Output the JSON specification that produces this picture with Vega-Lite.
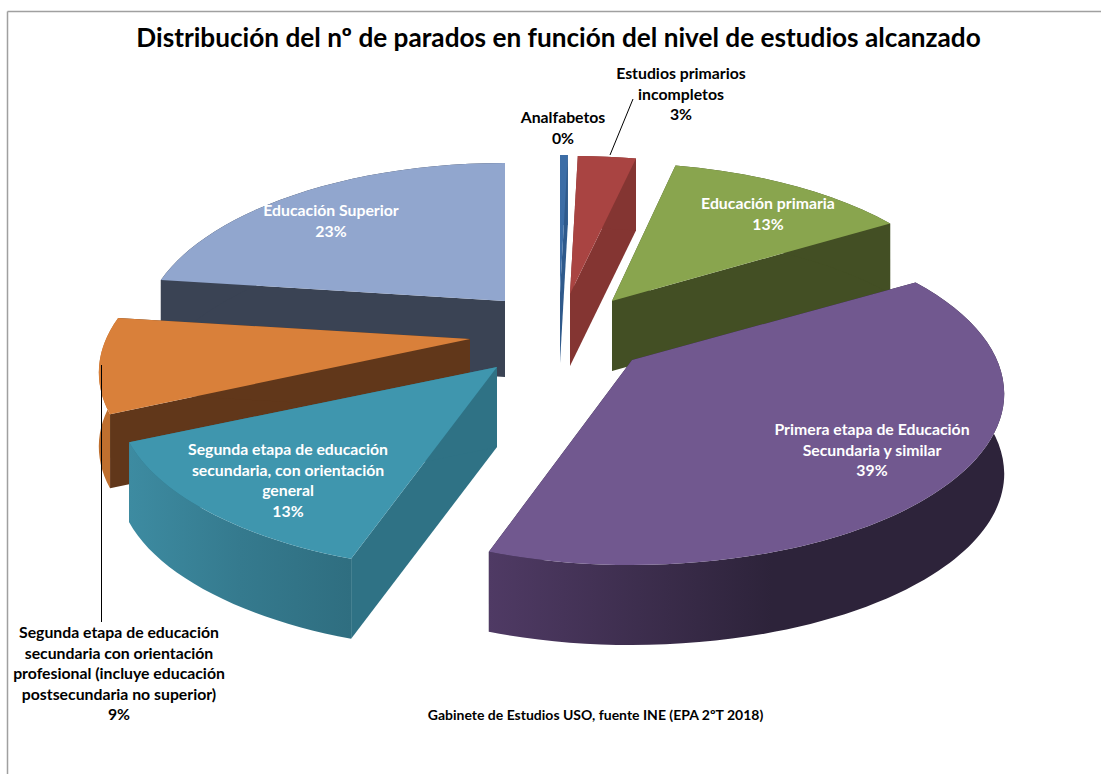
{
"$schema":"https://vega.github.io/schema/vega-lite/v6.json",
"width":1101,"height":774,"padding":0,"autosize":{"type":"none"},"background":"white",
"view":{"stroke":null},
"title":{"text":"Distribución del nº de parados en función del nivel de estudios alcanzado","font":"Lato","fontSize":26.2,"fontWeight":"bold","color":"#000000","anchor":"middle","offset":-52,"dx":8},
"data":{"values":[
{"slice":"a","category":"Analfabetos","label":"Analfabetos\n0%","value":0.4},
{"slice":"r","category":"Estudios primarios incompletos","label":"Estudios primarios\nincompletos\n3%","value":3},
{"slice":"g","category":"Educación primaria","label":"Educación primaria\n13%","value":13},
{"slice":"p","category":"Primera etapa de Educación Secundaria y similar","label":"Primera etapa de Educación\nSecundaria y similar\n39%","value":39},
{"slice":"t","category":"Segunda etapa de educación secundaria, con orientación general","label":"Segunda etapa de educación\nsecundaria, con orientación\ngeneral\n13%","value":13},
{"slice":"o","category":"Segunda etapa de educación secundaria con orientación profesional (incluye educación postsecundaria no superior)","label":"Segunda etapa de educación\nsecundaria con orientación\nprofesional (incluye educación\npostsecundaria no superior)\n9%","value":9},
{"slice":"b","category":"Educación Superior","label":"Educación Superior\n23%","value":23}
]},
"transform":[
{"joinaggregate":[{"op":"sum","field":"value","as":"tot"}]},
{"window":[{"op":"sum","field":"value","as":"cum"}],"frame":[null,0]},
{"calculate":"2*PI*(datum.cum-datum.value)/datum.tot","as":"t0"},
{"calculate":"2*PI*datum.cum/datum.tot","as":"t1"},
{"calculate":"{a:560,r:570,g:612,p:632,t:497,o:470,b:505}[datum.slice]","as":"ax"},
{"calculate":"{a:293,r:294,g:301,p:360,t:367,o:339,b:301}[datum.slice]","as":"ay"},
{"calculate":"{a:372,r:372,g:358,p:365,t:372,o:364,b:356}[datum.slice]","as":"R"},
{"calculate":"{a:70,r:72,g:70,p:80,t:80,o:74,b:76}[datum.slice]","as":"dep"},
{"calculate":"{a:563,r:681,g:768,p:872,t:288,o:119,b:331}[datum.slice]","as":"lx"},
{"calculate":"{a:123,r:79,g:209,p:435,t:455,o:638,b:216}[datum.slice]","as":"ly"},
{"calculate":"{r:610,o:101.5}[datum.slice]","as":"leadX"},
{"calculate":"{r:633,o:101.5}[datum.slice]","as":"leadX2"},
{"calculate":"{r:155,o:365}[datum.slice]","as":"leadY"},
{"calculate":"{r:99,o:622}[datum.slice]","as":"leadY2"},
{"calculate":"1/(1+0.195*cos(datum.t0))","as":"f0"},
{"calculate":"1/(1+0.195*cos(datum.t1))","as":"f1"},
{"calculate":"round(100000*datum.R*1.0196/500)/100000","as":"rx"},
{"calculate":"datum.dep/500","as":"da"},
{"calculate":"round(100000*datum.R*sin(datum.t0)*datum.f0/500)/100000","as":"x0"},
{"calculate":"round(100000*datum.R*sin(datum.t1)*datum.f1/500)/100000","as":"x1"},
{"calculate":"round(-100000*165*cos(datum.t0)*datum.f0/500)/100000","as":"y0"},
{"calculate":"round(-100000*165*cos(datum.t1)*datum.f1/500)/100000","as":"y1"},
{"calculate":"round(100000*(datum.y0+datum.da))/100000","as":"b0"},
{"calculate":"round(100000*(datum.y1+datum.da))/100000","as":"b1"},
{"calculate":"'M0 0L'+datum.x0+' '+datum.y0+'L'+datum.x0+' '+datum.b0+'L0 '+datum.da+'Z'","as":"rad0"},
{"calculate":"'M0 0L'+datum.x1+' '+datum.y1+'L'+datum.x1+' '+datum.b1+'L0 '+datum.da+'Z'","as":"rad1"},
{"calculate":"'M'+datum.x0+' '+datum.y0+'A'+datum.rx+' 0.343 0 0 1 '+datum.x1+' '+datum.y1+'L'+datum.x1+' '+datum.b1+'A'+datum.rx+' 0.343 0 0 0 '+datum.x0+' '+datum.b0+'Z'","as":"outer"},
{"calculate":"'M0 0L'+datum.x0+' '+datum.y0+'A'+datum.rx+' 0.343 0 0 1 '+datum.x1+' '+datum.y1+'Z'","as":"top"},
{"fold":["rad0","rad1","outer","top"],"as":["part","path"]},
{"calculate":"datum.slice+'|'+(datum.part=='rad0'||datum.part=='rad1'?'rad':datum.part)","as":"fillKey"},
{"calculate":"{b:1,a:2,r:3,g:4,o:5,t:6,p:7}[datum.slice]*10+{rad0:0,rad1:1,outer:2,top:3}[datum.part]","as":"z"}
],
"layer":[
{"data":{"values":[{"frame":"left"}]},"mark":{"type":"rule","color":"#a0a0a0","strokeWidth":1.5},"encoding":{"x":{"value":7.5},"y":{"value":11.5},"y2":{"value":774}}},
{"data":{"values":[{"frame":"top"}]},"mark":{"type":"rule","color":"#a0a0a0","strokeWidth":1.5},"encoding":{"y":{"value":11.5},"x":{"value":7.5},"x2":{"value":1101}}},
{"transform":[{"filter":"!(datum.fillKey=='t|outer'||datum.fillKey=='p|outer'||datum.fillKey=='t|top'||datum.fillKey=='p|top')"}],
"mark":{"type":"point","filled":true,"opacity":1,"size":1000000,"strokeWidth":0},
"encoding":{
"x":{"field":"ax","type":"quantitative","scale":null,"axis":null},
"y":{"field":"ay","type":"quantitative","scale":null,"axis":null},
"shape":{"field":"path","type":"nominal","scale":null,"legend":null},
"order":{"field":"z","type":"quantitative"},
"fill":{"field":"fillKey","type":"nominal","legend":null,"scale":{
"domain":["a|rad","a|outer","a|top","r|rad","r|outer","r|top","g|rad","g|outer","g|top","p|rad","t|rad","o|rad","o|outer","o|top","b|rad","b|outer","b|top"],
"range":["#2f5a8c","#2f5a8c","#3c6da6","#843532","#843532","#A94442","#434f24","#434f24","#89A54E","#2c2239","#2f7285","#61371a","#bf6f2e","#D9803A","#3a4354","#3a4354","#91A6CE"]}}
}},
{"transform":[{"filter":"datum.fillKey=='t|outer'"}],
"mark":{"type":"point","filled":true,"opacity":1,"size":1000000,"strokeWidth":0,"fill":{"gradient":"linear","x1":0,"x2":1,"y1":0,"y2":0,"stops":[{"offset":0,"color":"#3d8ba1"},{"offset":0.5,"color":"#357a8e"},{"offset":1,"color":"#2f6e80"}]}},
"encoding":{
"x":{"field":"ax","type":"quantitative","scale":null,"axis":null},
"y":{"field":"ay","type":"quantitative","scale":null,"axis":null},
"shape":{"field":"path","type":"nominal","scale":null,"legend":null}
}},
{"transform":[{"filter":"datum.fillKey=='t|top'"}],
"mark":{"type":"point","filled":true,"opacity":1,"size":1000000,"strokeWidth":0,"fill":"#3F96AE"},
"encoding":{
"x":{"field":"ax","type":"quantitative","scale":null,"axis":null},
"y":{"field":"ay","type":"quantitative","scale":null,"axis":null},
"shape":{"field":"path","type":"nominal","scale":null,"legend":null}
}},
{"transform":[{"filter":"datum.fillKey=='p|outer'"}],
"mark":{"type":"point","filled":true,"opacity":1,"size":1000000,"strokeWidth":0,"fill":{"gradient":"linear","x1":0,"x2":1,"y1":0,"y2":0,"stops":[{"offset":0,"color":"#4f3a64"},{"offset":0.55,"color":"#2d233a"},{"offset":1,"color":"#2d233a"}]}},
"encoding":{
"x":{"field":"ax","type":"quantitative","scale":null,"axis":null},
"y":{"field":"ay","type":"quantitative","scale":null,"axis":null},
"shape":{"field":"path","type":"nominal","scale":null,"legend":null}
}},
{"transform":[{"filter":"datum.fillKey=='p|top'"}],
"mark":{"type":"point","filled":true,"opacity":1,"size":1000000,"strokeWidth":0,"fill":"#71588F"},
"encoding":{
"x":{"field":"ax","type":"quantitative","scale":null,"axis":null},
"y":{"field":"ay","type":"quantitative","scale":null,"axis":null},
"shape":{"field":"path","type":"nominal","scale":null,"legend":null}
}},
{"transform":[{"filter":"datum.part=='top'&&(datum.slice=='r'||datum.slice=='o')"}],"mark":{"type":"rule","color":"#000000","strokeWidth":1},
"encoding":{"x":{"field":"leadX","type":"quantitative","scale":null,"axis":null},"x2":{"field":"leadX2"},"y":{"field":"leadY","type":"quantitative","scale":null,"axis":null},"y2":{"field":"leadY2"}}},
{"transform":[{"filter":"datum.part=='top'"}],"mark":{"type":"text","font":"Lato","fontWeight":"bold","fontSize":15.8,"lineHeight":20.5,"lineBreak":"\n","align":"center","baseline":"alphabetic"},
"encoding":{
"x":{"field":"lx","type":"quantitative","scale":null,"axis":null},
"y":{"field":"ly","type":"quantitative","scale":null,"axis":null},
"text":{"field":"label","type":"nominal"},
"color":{"condition":{"test":"indexof(['g','p','t','b'],datum.slice)>=0","value":"#ffffff"},"value":"#000000"}
}},
{"data":{"values":[{"note":"Gabinete de Estudios USO, fuente INE (EPA 2ºT 2018)"}]},
"mark":{"type":"text","font":"Lato","fontWeight":"bold","fontSize":14,"color":"#000000","align":"center","baseline":"alphabetic","xOffset":45,"yOffset":333},
"encoding":{"text":{"field":"note","type":"nominal"}}}
]
}
